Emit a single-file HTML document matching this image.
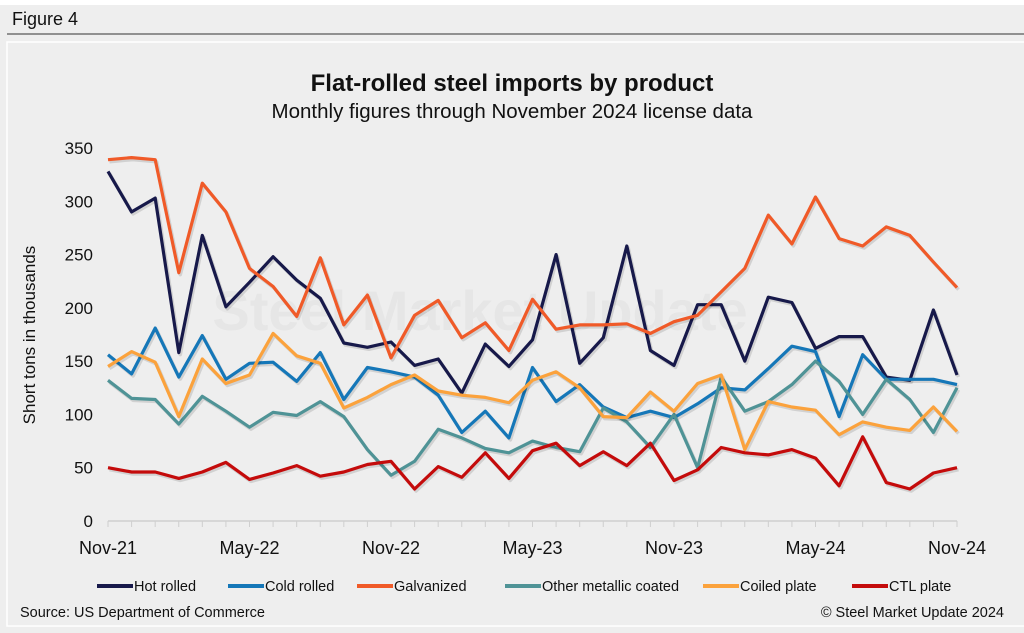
<!DOCTYPE html>
<html><head><meta charset="utf-8"><style>
html,body{margin:0;padding:0;background:#fff;}
svg{display:block;font-family:"Liberation Sans",Arial,sans-serif;}
</style></head><body>
<svg id="chart" width="1024" height="633" viewBox="0 0 1024 633">
<rect x="0" y="0" width="1024" height="633" fill="#eeeeee"/>
<rect x="0" y="0" width="1024" height="5" fill="#ffffff"/>
<text x="12" y="25" font-size="18" fill="#111">Figure 4</text>
<line x1="7" y1="34" x2="1024" y2="34" stroke="#333" stroke-width="1"/>
<rect x="7" y="42" width="1030" height="584" fill="#eeeeee" stroke="#ffffff" stroke-width="1.5"/>
<text x="512" y="91" text-anchor="middle" font-size="24" font-weight="bold" fill="#111">Flat-rolled steel imports by product</text>
<text x="512" y="118" text-anchor="middle" font-size="20.5" fill="#111">Monthly figures through November 2024 license data</text>
<text transform="translate(35,335) rotate(-90)" text-anchor="middle" font-size="17" fill="#111">Short tons in thousands</text>
<text x="480" y="330" text-anchor="middle" font-size="56" font-weight="bold" fill="#e6e6e6">Steel Market Update</text>
<g id="yticks"></g><g id="xaxis"></g><g id="series"></g><g id="legend"></g>
<text x="20" y="617" font-size="14.5" fill="#111">Source: US Department of Commerce</text>
<text x="1004" y="617" text-anchor="end" font-size="14.5" fill="#111">© Steel Market Update 2024</text>
</svg>
<script>
const xLabels = ["Nov-21","May-22","Nov-22","May-23","Nov-23","May-24","Nov-24"];
const yTicks = [0,50,100,150,200,250,300,350];
const seriesNames = ["Hot rolled","Cold rolled","Galvanized","Other metallic coated","Coiled plate","CTL plate"];
const seriesColors = ["#17194a","#1577b8","#f05a28","#4f9396","#fba23c","#c40b0b"];
const hotRolled = [328,290,303,158,268,201,224,248,226,209,167,163,168,146,152,120,166,145,170,250,148,172,258,160,146,203,203,150,210,205,162,173,173,135,132,198,137];
const coldRolled = [156,138,181,135,174,133,148,149,131,158,114,144,140,135,118,83,103,78,144,112,128,107,97,103,97,110,125,123,143,164,159,98,156,133,133,133,128];
const galvanized = [339,341,339,233,317,290,237,220,192,247,184,212,153,193,207,172,186,160,208,180,184,184,185,176,187,193,215,237,287,260,304,265,258,276,268,243,219];
const otherCoated = [132,115,114,91,117,103,88,102,99,112,98,67,43,56,86,78,68,64,75,69,65,106,93,69,100,50,135,103,112,128,150,131,100,133,114,83,125];
const coiledPlate = [145,159,149,98,152,129,137,176,155,148,106,116,128,137,122,118,116,111,132,140,125,98,97,121,103,129,137,67,112,107,104,81,93,88,85,107,84];
const ctlPlate = [50,46,46,40,46,55,39,45,52,42,46,53,56,30,51,41,64,40,66,73,52,65,52,73,38,48,69,64,62,67,59,33,79,36,30,45,50];
const allSeries = [hotRolled,coldRolled,galvanized,otherCoated,coiledPlate,ctlPlate];

const NS="http://www.w3.org/2000/svg";
const X0=108, X1=957, Y0=521, YTOP=148, YMAX=350;
const nPts = hotRolled.length;
const xPos = i => X0 + (X1-X0)*i/(nPts-1);
const yPos = v => Y0 - (Y0-YTOP)*v/YMAX;
function mk(tag, attrs, parent){const e=document.createElementNS(NS,tag);for(const k in attrs)e.setAttribute(k,attrs[k]);parent.appendChild(e);return e;}

const yg=document.getElementById('yticks');
yTicks.forEach(v=>{
  const t=mk('text',{x:93,y:yPos(v)+6,'text-anchor':'end','font-size':17,fill:'#111'},yg);
  t.textContent=v;
  
  
});
const xg=document.getElementById('xaxis');
const ax=mk('line',{x1:X0,y1:Y0,x2:X1,y2:Y0,stroke:'#cfcfcf','stroke-width':1.5},xg);


for(let i=0;i<nPts;i++){
  const tk=mk('line',{x1:xPos(i),y1:Y0,x2:xPos(i),y2:Y0+6,stroke:'#cfcfcf','stroke-width':1},xg);
  
  
}
xLabels.forEach((l,j)=>{
  const t=mk('text',{x:xPos(j*6),y:554,'text-anchor':'middle','font-size':18,fill:'#111'},xg);
  t.textContent=l;
  
  
});
const sg=document.getElementById('series');
allSeries.forEach((arr,s)=>{
  const pts=arr.map((v,i)=>xPos(i).toFixed(1)+','+yPos(v).toFixed(1)).join(' ');
  const sh=mk('polyline',{points:pts,fill:'none',stroke:'rgba(0,0,0,0.12)','stroke-width':3.5,'stroke-linejoin':'round',transform:'translate(1.5,2)'},sg);
  
  
  const p=mk('polyline',{points:pts,fill:'none',stroke:seriesColors[s],'stroke-width':3.2,'stroke-linejoin':'round'},sg);
  
  
});
const lg=document.getElementById('legend');
const legX=[97,228,357,505,703,852];
seriesNames.forEach((n,s)=>{
  const ln=mk('line',{x1:legX[s],y1:586,x2:legX[s]+36,y2:586,stroke:seriesColors[s],'stroke-width':4},lg);
  
  
  const t=mk('text',{x:legX[s]+37,y:591,'font-size':14.5,fill:'#111'},lg);
  t.textContent=n;
  
  
});
</script>
</body></html>
